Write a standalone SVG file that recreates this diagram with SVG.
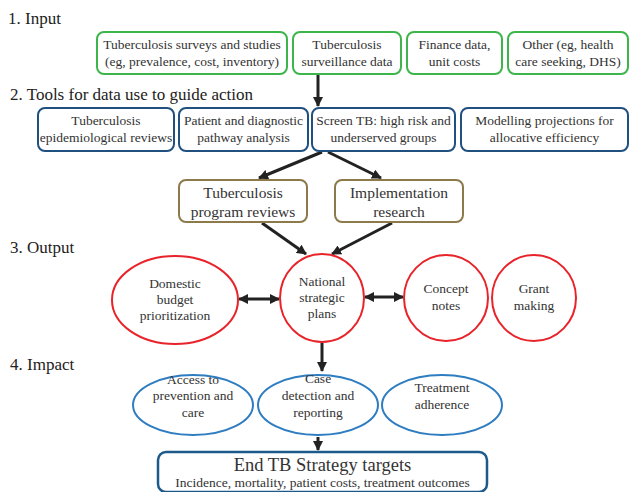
<svg xmlns="http://www.w3.org/2000/svg" width="631" height="492" viewBox="0 0 631 492">
<defs>
<marker id="ah" markerUnits="userSpaceOnUse" markerWidth="10" markerHeight="10" refX="9" refY="5" orient="auto"><path d="M0,0 L10,5 L0,10 Z" fill="#222"/></marker>
<marker id="as" markerUnits="userSpaceOnUse" markerWidth="10" markerHeight="10" refX="1" refY="5" orient="auto"><path d="M10,0 L0,5 L10,10 Z" fill="#222"/></marker>
</defs>
<g font-family="Liberation Serif" font-size="17" fill="#222">
<text x="8" y="24" font-family="Liberation Serif">1. Input</text>
<text x="10" y="100" font-family="Liberation Serif">2. Tools for data use to guide action</text>
<text x="10" y="253" font-family="Liberation Serif">3. Output</text>
<text x="10" y="370" font-family="Liberation Serif">4. Impact</text>
</g>

<g id="connectors" stroke="#222" stroke-width="3" fill="none" marker-end="url(#ah)">
<line x1="318" y1="75" x2="318" y2="106"/>
<line x1="322" y1="152" x2="259" y2="178"/>
<line x1="328" y1="152" x2="381" y2="178"/>
<line x1="262" y1="223" x2="306" y2="254"/>
<line x1="392" y1="223" x2="332" y2="254"/>
<line x1="239" y1="299" x2="279" y2="299" marker-start="url(#as)"/>
<line x1="365" y1="297" x2="403" y2="297" marker-start="url(#as)"/>
<line x1="322" y1="343" x2="322" y2="371"/>
<line x1="318" y1="437" x2="318" y2="450"/>
</g>

<g font-family="Liberation Serif" font-size="13.5" fill="#333" text-anchor="middle">
<g id="in1"><rect x="97" y="32" width="190" height="42" rx="7" fill="#fff" stroke="#3cb54a" stroke-width="2"/><text x="192" y="49" font-family="Liberation Serif">Tuberculosis surveys and studies</text><text x="192" y="66" font-family="Liberation Serif">(eg, prevalence, cost, inventory)</text></g>
<g id="in2"><rect x="293" y="32" width="108" height="42" rx="7" fill="#fff" stroke="#3cb54a" stroke-width="2"/><text x="347" y="49" font-family="Liberation Serif">Tuberculosis</text><text x="347" y="66" font-family="Liberation Serif">surveillance data</text></g>
<g id="in3"><rect x="407" y="32" width="95" height="42" rx="7" fill="#fff" stroke="#3cb54a" stroke-width="2"/><text x="454.5" y="49" font-family="Liberation Serif">Finance data,</text><text x="454.5" y="66" font-family="Liberation Serif">unit costs</text></g>
<g id="in4"><rect x="508" y="32" width="120" height="42" rx="7" fill="#fff" stroke="#3cb54a" stroke-width="2"/><text x="568" y="49" font-family="Liberation Serif">Other (eg, health</text><text x="568" y="66" font-family="Liberation Serif">care seeking, DHS)</text></g>

<g id="t1"><rect x="38" y="108" width="136" height="43" rx="7" fill="#fff" stroke="#1f507f" stroke-width="2"/><text x="106" y="125" font-family="Liberation Serif">Tuberculosis</text><text x="106" y="142" font-family="Liberation Serif">epidemiological reviews</text></g>
<g id="t2"><rect x="179" y="108" width="129" height="43" rx="7" fill="#fff" stroke="#1f507f" stroke-width="2"/><text x="243.5" y="125" font-family="Liberation Serif">Patient and diagnostic</text><text x="243.5" y="142" font-family="Liberation Serif">pathway analysis</text></g>
<g id="t3"><rect x="312" y="108" width="143" height="43" rx="7" fill="#fff" stroke="#1f507f" stroke-width="2"/><text x="383.5" y="125" font-family="Liberation Serif">Screen TB: high risk and</text><text x="383.5" y="142" font-family="Liberation Serif">underserved groups</text></g>
<g id="t4"><rect x="461" y="108" width="167" height="43" rx="7" fill="#fff" stroke="#1f507f" stroke-width="2"/><text x="544.5" y="125" font-family="Liberation Serif">Modelling projections for</text><text x="544.5" y="142" font-family="Liberation Serif">allocative efficiency</text></g>

<g id="p1" font-size="15.5"><rect x="179" y="180" width="128" height="42" rx="7" fill="#fff" stroke="#8c7a4b" stroke-width="2"/><text x="243" y="198" font-family="Liberation Serif">Tuberculosis</text><text x="243" y="217" font-family="Liberation Serif">program reviews</text></g>
<g id="p2" font-size="15.5"><rect x="335" y="180" width="128" height="42" rx="7" fill="#fff" stroke="#8c7a4b" stroke-width="2"/><text x="399" y="198" font-family="Liberation Serif">Implementation</text><text x="399" y="217" font-family="Liberation Serif">research</text></g>

<g id="o1"><ellipse cx="175" cy="300" rx="63" ry="44" fill="#fff" stroke="#e8232a" stroke-width="2"/><text x="175" y="288" font-family="Liberation Serif">Domestic</text><text x="175" y="304" font-family="Liberation Serif">budget</text><text x="175" y="320" font-family="Liberation Serif">prioritization</text></g>
<g id="o2"><ellipse cx="322" cy="298" rx="42" ry="44" fill="#fff" stroke="#e8232a" stroke-width="2"/><text x="322" y="286" font-family="Liberation Serif">National</text><text x="322" y="302" font-family="Liberation Serif">strategic</text><text x="322" y="318" font-family="Liberation Serif">plans</text></g>
<g id="o3"><ellipse cx="446" cy="298" rx="42" ry="43" fill="#fff" stroke="#e8232a" stroke-width="2"/><text x="446" y="293" font-family="Liberation Serif">Concept</text><text x="446" y="310" font-family="Liberation Serif">notes</text></g>
<g id="o4"><ellipse cx="534" cy="298" rx="42" ry="43" fill="#fff" stroke="#e8232a" stroke-width="2"/><text x="534" y="293" font-family="Liberation Serif">Grant</text><text x="534" y="310" font-family="Liberation Serif">making</text></g>

<g id="i1"><ellipse cx="193" cy="405" rx="60" ry="30" fill="#fff" stroke="#2f7dc1" stroke-width="2"/><text x="193" y="384" font-family="Liberation Serif">Access to</text><text x="193" y="400" font-family="Liberation Serif">prevention and</text><text x="193" y="417" font-family="Liberation Serif">care</text></g>
<g id="i2"><ellipse cx="318" cy="405" rx="60" ry="30" fill="#fff" stroke="#2f7dc1" stroke-width="2"/><text x="318" y="383" font-family="Liberation Serif">Case</text><text x="318" y="400" font-family="Liberation Serif">detection and</text><text x="318" y="417" font-family="Liberation Serif">reporting</text></g>
<g id="i3"><ellipse cx="442" cy="405" rx="60" ry="30" fill="#fff" stroke="#2f7dc1" stroke-width="2"/><text x="442" y="392" font-family="Liberation Serif">Treatment</text><text x="442" y="409" font-family="Liberation Serif">adherence</text></g>

<g id="end"><rect x="158" y="452" width="329" height="40" rx="8" fill="#fff" stroke="#1c5a8c" stroke-width="2.5"/><text x="322.5" y="471" font-size="18.5" font-family="Liberation Serif">End TB Strategy targets</text><text x="322.5" y="487" font-family="Liberation Serif">Incidence, mortality, patient costs, treatment outcomes</text></g>
</g>
</svg>
